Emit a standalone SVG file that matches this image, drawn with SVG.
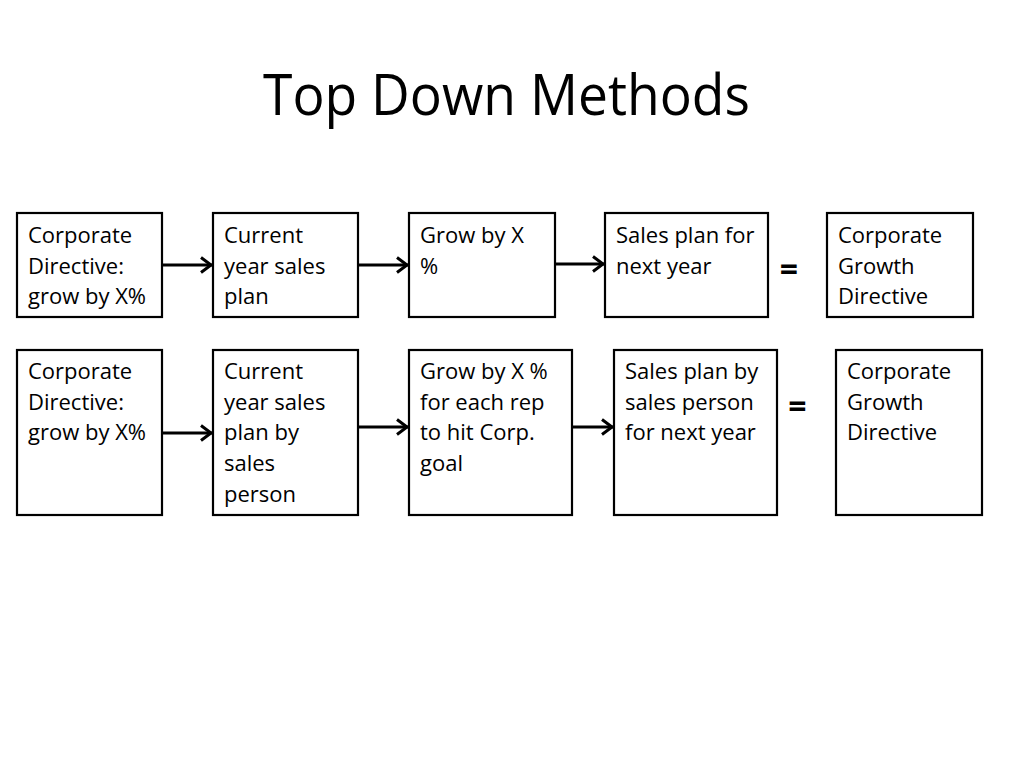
<svg xmlns="http://www.w3.org/2000/svg" width="1024" height="768" viewBox="0 0 1024 768">
<defs>
<style>
.box{fill:#fff;stroke:#000;stroke-width:2.2}
.t{font-family:"Open Sans","Liberation Sans",sans-serif;font-size:22px;fill:#000}
.eq{font-family:"Open Sans","Liberation Sans",sans-serif;font-size:32px;font-weight:bold;fill:#000;text-anchor:middle}
.c{stroke:#000;stroke-width:3;fill:none}
</style>
<marker id="ah" markerUnits="userSpaceOnUse" markerWidth="18" markerHeight="20" viewBox="0 0 18 20" refX="16" refY="10" orient="auto">
<path d="M5,2.5 L15,10 L5,17.5" fill="none" stroke="#000" stroke-width="3" stroke-linejoin="miter"/>
</marker>
</defs>
<rect width="1024" height="768" fill="#fff"/>
<text x="506.5" y="115" text-anchor="middle" font-family="Open Sans, Liberation Sans, sans-serif" font-size="57" textLength="487" lengthAdjust="spacingAndGlyphs">Top Down Methods</text>

<g id="n1"><rect class="box" x="17" y="213" width="145" height="104"/><text class="t" x="28" y="243">Corporate<tspan x="28" dy="30.7">Directive:</tspan><tspan x="28" dy="30.7">grow by X%</tspan></text></g>
<g id="n2"><rect class="box" x="213" y="213" width="145" height="104"/><text class="t" x="224" y="243">Current<tspan x="224" dy="30.7">year sales</tspan><tspan x="224" dy="30.7">plan</tspan></text></g>
<g id="n3"><rect class="box" x="409" y="213" width="146" height="104"/><text class="t" x="420" y="243">Grow by X<tspan x="420" dy="30.7">%</tspan></text></g>
<g id="n4"><rect class="box" x="605" y="213" width="163" height="104"/><text class="t" x="616" y="243">Sales plan for<tspan x="616" dy="30.7">next year</tspan></text></g>
<g id="eq1"><text class="eq" x="789" y="281">=</text></g>
<g id="n5"><rect class="box" x="827" y="213" width="146" height="104"/><text class="t" x="838" y="243">Corporate<tspan x="838" dy="30.7">Growth</tspan><tspan x="838" dy="30.7">Directive</tspan></text></g>

<g id="m1"><rect class="box" x="17" y="350" width="145" height="165"/><text class="t" x="28" y="379">Corporate<tspan x="28" dy="30.7">Directive:</tspan><tspan x="28" dy="30.7">grow by X%</tspan></text></g>
<g id="m2"><rect class="box" x="213" y="350" width="145" height="165"/><text class="t" x="224" y="379">Current<tspan x="224" dy="30.7">year sales</tspan><tspan x="224" dy="30.7">plan by</tspan><tspan x="224" dy="30.7">sales</tspan><tspan x="224" dy="30.7">person</tspan></text></g>
<g id="m3"><rect class="box" x="409" y="350" width="163" height="165"/><text class="t" x="420" y="379">Grow by X %<tspan x="420" dy="30.7">for each rep</tspan><tspan x="420" dy="30.7">to hit Corp.</tspan><tspan x="420" dy="30.7">goal</tspan></text></g>
<g id="m4"><rect class="box" x="614" y="350" width="163" height="165"/><text class="t" x="625" y="379">Sales plan by<tspan x="625" dy="30.7">sales person</tspan><tspan x="625" dy="30.7">for next year</tspan></text></g>
<g id="eq2"><text class="eq" x="797.5" y="418">=</text></g>
<g id="m5"><rect class="box" x="836" y="350" width="146" height="165"/><text class="t" x="847" y="379">Corporate<tspan x="847" dy="30.7">Growth</tspan><tspan x="847" dy="30.7">Directive</tspan></text></g>

<g id="connectors">
<line class="c" x1="163" y1="265" x2="212" y2="265" marker-end="url(#ah)"/>
<line class="c" x1="359" y1="265" x2="408" y2="265" marker-end="url(#ah)"/>
<line class="c" x1="556" y1="264" x2="604" y2="264" marker-end="url(#ah)"/>
<line class="c" x1="163" y1="433" x2="212" y2="433" marker-end="url(#ah)"/>
<line class="c" x1="359" y1="427" x2="408" y2="427" marker-end="url(#ah)"/>
<line class="c" x1="573" y1="427" x2="613" y2="427" marker-end="url(#ah)"/>
</g>
</svg>
